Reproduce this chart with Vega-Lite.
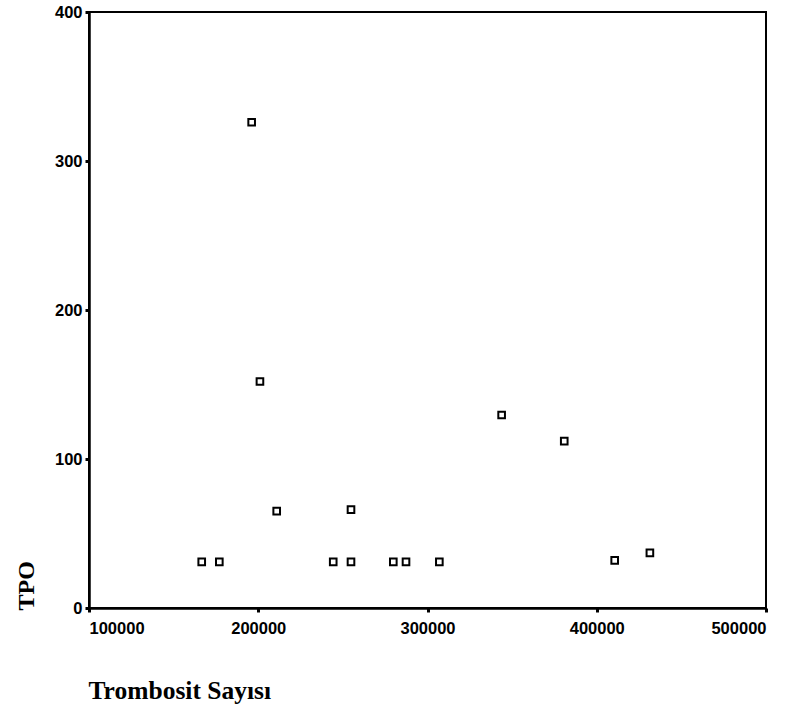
{
  "$schema": "https://vega.github.io/schema/vega-lite/v6.json",
  "width": 677,
  "height": 596,
  "autosize": {"type": "none"},
  "padding": {"left": 89, "top": 12, "right": 34, "bottom": 103},
  "background": "white",
  "config": {
    "view": {"stroke": "black", "strokeWidth": 2},
    "axis": {
      "grid": false,
      "domainColor": "black",
      "domainWidth": 2.5,
      "tickColor": "black",
      "tickSize": 4,
      "tickWidth": 3,
      "labelFont": "Liberation Sans",
      "labelFontWeight": "bold",
      "labelFontSize": 16.5,
      "labelColor": "black",
      "titleFont": "Liberation Serif",
      "titleColor": "black",
      "titleFontWeight": "bold"
    }
  },
  "data": {
    "values": [
      {"trombosit": 166600, "tpo": 31},
      {"trombosit": 177000, "tpo": 31},
      {"trombosit": 196100, "tpo": 326},
      {"trombosit": 201000, "tpo": 152},
      {"trombosit": 210900, "tpo": 65},
      {"trombosit": 244300, "tpo": 31},
      {"trombosit": 254800, "tpo": 31},
      {"trombosit": 254800, "tpo": 66},
      {"trombosit": 279800, "tpo": 31},
      {"trombosit": 287300, "tpo": 31},
      {"trombosit": 307000, "tpo": 31},
      {"trombosit": 343800, "tpo": 129.5},
      {"trombosit": 380800, "tpo": 112},
      {"trombosit": 410600, "tpo": 32},
      {"trombosit": 431400, "tpo": 37}
    ]
  },
  "mark": {"type": "point", "shape": "square", "filled": false, "size": 44, "stroke": "black", "strokeWidth": 2, "opacity": 1},
  "encoding": {
    "x": {
      "field": "trombosit",
      "type": "quantitative",
      "scale": {"domain": [100000, 500000], "nice": false, "zero": false},
      "axis": {
        "values": [100000, 200000, 300000, 400000, 500000],
        "format": "d",
        "labelPadding": 8,
        "title": "Trombosit Sayısı",
        "titleFontSize": 25.5,
        "titleX": -1,
        "titleY": 90,
        "titleAlign": "left",
        "titleBaseline": "alphabetic"
      }
    },
    "y": {
      "field": "tpo",
      "type": "quantitative",
      "scale": {"domain": [0, 400], "nice": false},
      "axis": {
        "values": [0, 100, 200, 300, 400],
        "labelPadding": 3,
        "title": "TPO",
        "titleFontSize": 24,
        "titleX": -56,
        "titleY": 598,
        "titleAngle": -90,
        "titleAlign": "left",
        "titleBaseline": "alphabetic"
      }
    }
  }
}
